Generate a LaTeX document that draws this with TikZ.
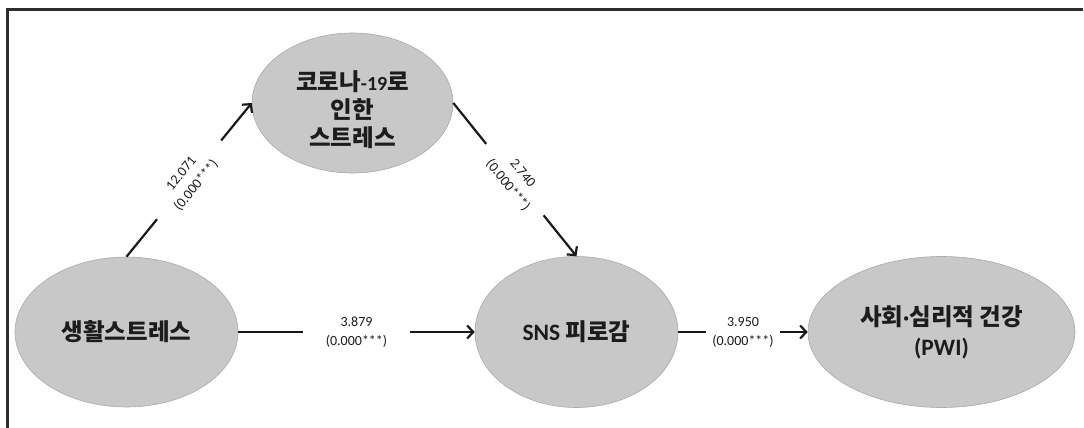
\documentclass[tikz,border=0pt]{standalone}
\usepackage{fontspec}
\setmainfont{Carlito}
\newfontfamily\kr{Noto Sans CJK KR}
\usetikzlibrary{shapes.geometric,arrows.meta}
\definecolor{ellfill}{RGB}{200,200,200}
\definecolor{elldraw}{RGB}{170,170,170}
\definecolor{txt}{RGB}{28,28,28}
\definecolor{framecol}{RGB}{45,45,45}
\newcommand{\lat}[1]{{\rmfamily\bfseries #1}}
\begin{document}
\begin{tikzpicture}[x=1pt,y=-1pt,
  ell/.style={ellipse, fill=ellfill, draw=elldraw, line width=0.6pt, inner sep=0pt,
    align=center, text=txt, font=\kr\bfseries\fontsize{23.5}{28}\selectfont},
  conn/.style={line width=2.2pt, black!90},
  arr/.style={conn, -{Straight Barb[length=6pt,width=13pt]}},
  lab/.style={fill=white, align=center, text=txt, inner ysep=1pt,
    font=\rmfamily\fontsize{14}{19}\selectfont},
  framestyle/.style={line width=2.2pt, draw=framecol}]
\useasboundingbox (0,0) rectangle (1084,428);
\draw[framestyle] (7.5,428) -- (7.5,9.5) -- (1083,9.5);

\node[ell, minimum width=223pt, minimum height=150pt] (hwal) at (126.5,332) {생활스트레스};
\node[ell, minimum width=201pt, minimum height=140pt] (corona) at (352.5,103)
  {\rule{0pt}{34pt}코로나{\rmfamily\bfseries\fontsize{20}{28}\selectfont -19}로\\인한\\스트레스};
\node[ell, minimum width=203pt, minimum height=151pt] (sns) at (576.5,332) {\lat{SNS} 피로감};
\node[ell, minimum width=267pt, minimum height=151pt] (pwi) at (941.5,332)
  {사회\lat{·}심리적 건강\\[2pt]\lat{(PWI)}};

\draw[arr] (hwal.north) -- node[lab, sloped, inner xsep=20pt] {12.071\\(0.000***)} (corona.west);
\draw[arr] (corona.east) -- node[lab, sloped, inner xsep=15pt] {2.740\\(0.000***)} (sns.north);
\draw[arr] (hwal.east) -- node[lab, inner xsep=23pt] {3.879\\(0.000***)} (sns.west);
\draw[arr] (sns.east) -- node[lab, inner xsep=6pt] {3.950\\(0.000***)} (pwi.west);
\end{tikzpicture}
\end{document}
